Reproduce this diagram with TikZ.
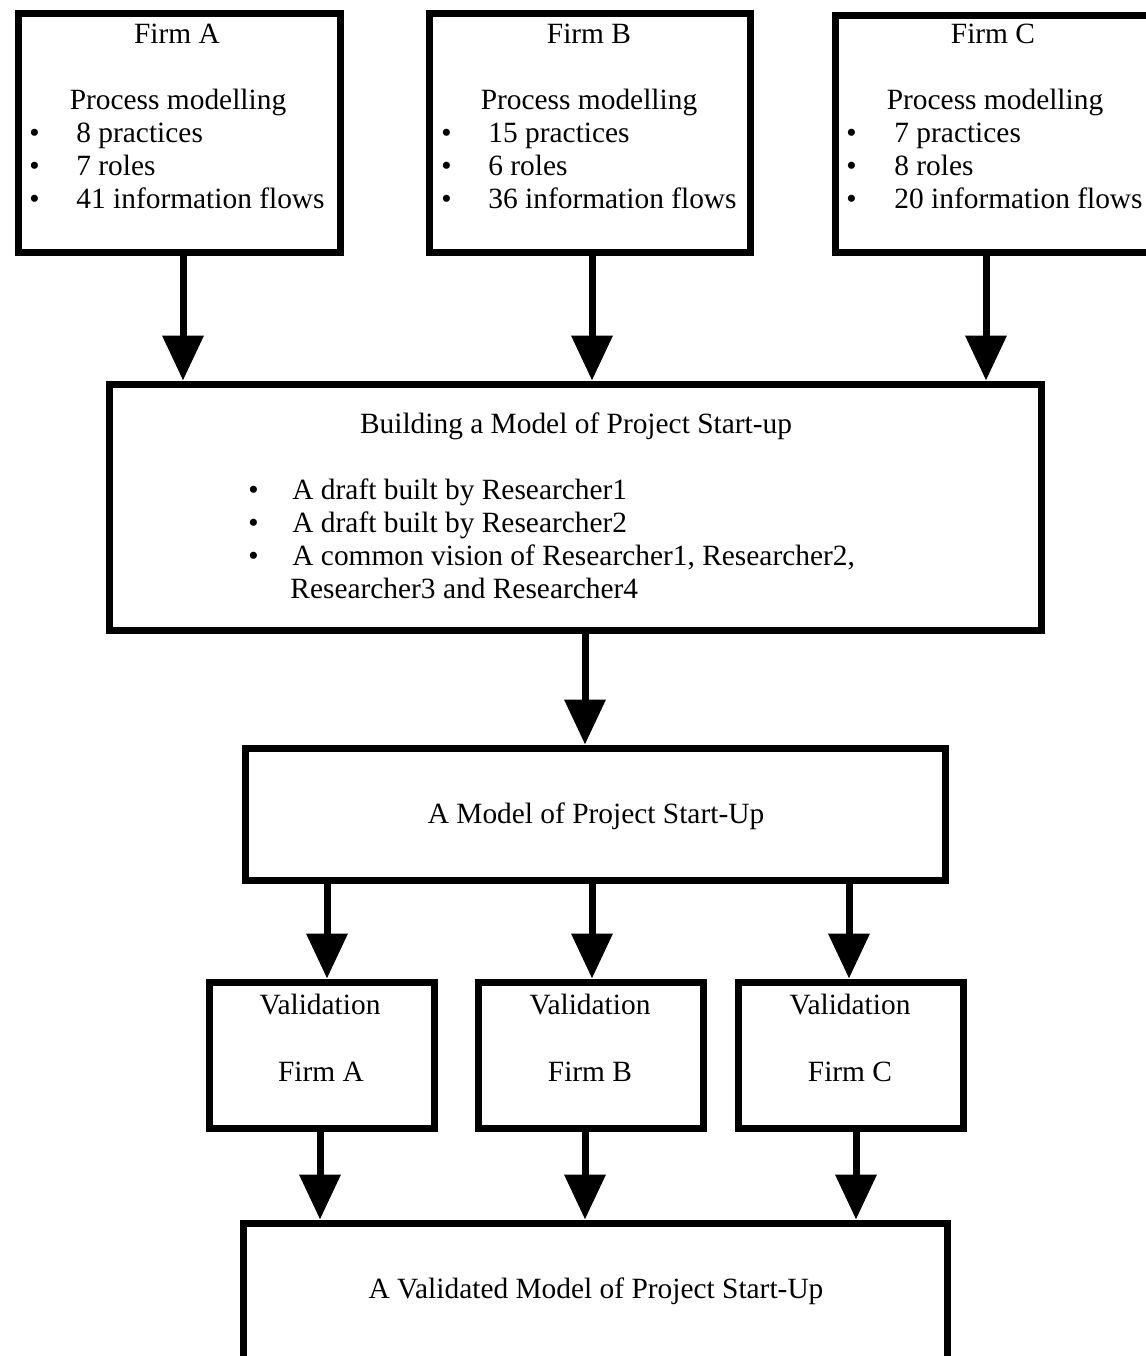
\documentclass[tikz,border=0pt]{standalone}
\usepackage{fontspec}
\setmainfont{Liberation Serif}
\usetikzlibrary{arrows.meta}
\begin{document}
\begin{tikzpicture}[x=0.5pt,y=-0.5pt,
  box/.style={draw, line width=3.5pt, inner sep=0pt, rectangle},
  txt/.style={font=\fontsize{14.7pt}{16.5pt}\selectfont, inner sep=0pt, anchor=base},
  itm/.style={txt, anchor=base west},
  arr/.style={line width=3.5pt, -{Triangle[length=22.5pt,width=20pt]}}]
\useasboundingbox[fill=white] (0,0) rectangle (1146,1356);

% top firm boxes
\node[box, minimum width=161pt, minimum height=119.5pt] (fa) at (179,132.5) {};
\node[box, minimum width=160.5pt, minimum height=119.5pt] (fb) at (589.5,132.5) {};
\node[box, minimum width=162.5pt, minimum height=118.5pt] (fc) at (997.5,133.5) {};

% Firm A text
\node[txt] (faT) at (177,43) {Firm A};
\node[txt] (faP) at (178,109) {Process modelling};
\node[itm] (faB1) at (29,142) {•};
\node[itm] (faB2) at (29,175) {•};
\node[itm] (faB3) at (29,208) {•};
\node[itm] (faI1) at (76,142) {8 practices};
\node[itm] (faI2) at (76,175) {7 roles};
\node[itm] (faI3) at (76,208) {41 information flows};

% Firm B text
\node[txt] (fbT) at (589,43) {Firm B};
\node[txt] (fbP) at (589,109) {Process modelling};
\node[itm] (fbB1) at (441,142) {•};
\node[itm] (fbB2) at (441,175) {•};
\node[itm] (fbB3) at (441,208) {•};
\node[itm] (fbI1) at (488,142) {15 practices};
\node[itm] (fbI2) at (488,175) {6 roles};
\node[itm] (fbI3) at (488,208) {36 information flows};

% Firm C text
\node[txt] (fcT) at (993,43) {Firm C};
\node[txt] (fcP) at (995,109) {Process modelling};
\node[itm] (fcB1) at (846,142) {•};
\node[itm] (fcB2) at (846,175) {•};
\node[itm] (fcB3) at (846,208) {•};
\node[itm] (fcI1) at (894,142) {7 practices};
\node[itm] (fcI2) at (894,175) {8 roles};
\node[itm] (fcI3) at (894,208) {20 information flows};

% building box
\node[box, minimum width=466pt, minimum height=123pt] (bld) at (575,507) {};
\node[txt] (bldT) at (576,433) {Building a Model of Project Start-up};
\node[itm] (bldB1) at (248,499) {•};
\node[itm] (bldB2) at (248,532) {•};
\node[itm] (bldB3) at (248,565) {•};
\node[itm] (bldI1) at (292,499) {A draft built by Researcher1};
\node[itm] (bldI2) at (292,532) {A draft built by Researcher2};
\node[itm] (bldI3) at (292,565) {A common vision of Researcher1, Researcher2,};
\node[itm] (bldI4) at (290,598) {Researcher3 and Researcher4};

% model box
\node[box, minimum width=350pt, minimum height=66pt] (mdl) at (595,814) {};
\node[txt] (mdlT) at (596,823) {A Model of Project Start-Up};

% validation boxes
\node[box, minimum width=112.5pt, minimum height=73pt] (va) at (321.5,1055) {};
\node[box, minimum width=112.5pt, minimum height=73pt] (vb) at (590.5,1055) {};
\node[box, minimum width=112.5pt, minimum height=73pt] (vc) at (850.5,1055) {};
\node[txt] (vaT) at (320,1014) {Validation};
\node[txt] (vaF) at (321,1081) {Firm A};
\node[txt] (vbT) at (590,1014) {Validation};
\node[txt] (vbF) at (590,1081) {Firm B};
\node[txt] (vcT) at (850,1014) {Validation};
\node[txt] (vcF) at (850,1081) {Firm C};

% final box
\node[box, minimum width=352pt, minimum height=88.5pt] (fin) at (595,1311.5) {};
\node[txt] (finT) at (596,1298) {A Validated Model of Project Start-Up};

% arrows
\draw[arr] ([xshift=2pt]fa.south) -- ([xshift=2pt]fa.south |- bld.north);
\draw[arr] ([xshift=1.25pt]fb.south) -- ([xshift=1.25pt]fb.south |- bld.north);
\draw[arr] ([xshift=-5.75pt]fc.south) -- ([xshift=-5.75pt]fc.south |- bld.north);
\draw[arr] ([xshift=5pt]bld.south) -- ([xshift=5pt]bld.south |- mdl.north);
\draw[arr] ([xshift=2.75pt]va.north |- mdl.south) -- ([xshift=2.75pt]va.north);
\draw[arr] ([xshift=0.75pt]vb.north |- mdl.south) -- ([xshift=0.75pt]vb.north);
\draw[arr] ([xshift=-0.75pt]vc.north |- mdl.south) -- ([xshift=-0.75pt]vc.north);
\draw[arr] ([xshift=-0.75pt]va.south) -- ([xshift=-0.75pt]va.south |- fin.north);
\draw[arr] ([xshift=-2.75pt]vb.south) -- ([xshift=-2.75pt]vb.south |- fin.north);
\draw[arr] ([xshift=2.75pt]vc.south) -- ([xshift=2.75pt]vc.south |- fin.north);
\end{tikzpicture}
\end{document}
